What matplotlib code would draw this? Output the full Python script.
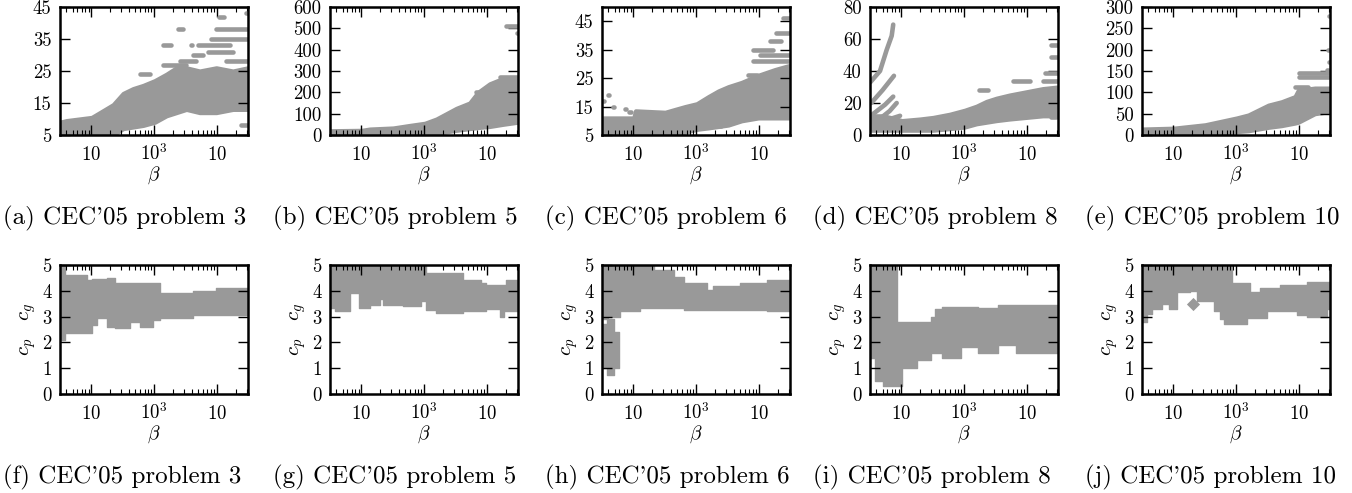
import numpy as np
import matplotlib
matplotlib.use("Agg")
import matplotlib.pyplot as plt
from matplotlib.ticker import NullFormatter, LogLocator

plt.rcParams['font.family'] = ['cmr10', 'DejaVu Serif']
plt.rcParams['mathtext.fontset'] = 'cm'
plt.rcParams['axes.unicode_minus'] = False
plt.rcParams['axes.formatter.use_mathtext'] = False

GRAY = '#999999'

# ---- x axis (beta, log scale) ----
x_lim = (3.16, 3100)
x_ticks = [10, 100, 1000]
x_tick_labels = [r'$10$', r'$10^3$', r'$10$']

# ---- top row: population size vs beta (dense region + outlier streaks) ----
# streaks are (y, beta_from, beta_to)
a_x = [3.16, 4.0, 10.1, 13.6, 22.2, 32, 46, 66.5, 102, 156, 225, 324, 527, 970, 1780, 3090]
a_lo = [5, 5, 5, 5, 5, 7, 7.5, 8, 9, 11, 12, 13, 12, 12, 13, 13]
a_hi = [9, 9.5, 10.5, 12, 14.5, 18, 19.5, 20.5, 22, 24, 26, 26, 25, 26, 25, 26]
a_streaks = [(12, 3.35, 3.4), (24, 59, 85), (27, 138, 324), (28, 254, 467), (28, 1400, 2950),
             (30, 413, 596), (31, 715, 1780), (33, 138, 187), (33, 389, 395), (33, 497, 1580),
             (35, 808, 3000), (38, 240, 287), (38, 715, 720), (38, 970, 2950),
             (42, 1070, 1300), (43, 2900, 3000), (8, 2420, 3000)]

b_x = [3.16, 10.1, 13.6, 32, 59, 102, 156, 225, 324, 527, 715, 1100, 1780, 3090]
b_lo = [0, 0, 0, 0, 0, 5, 8, 15, 22, 30, 35, 40, 50, 60]
b_hi = [20, 22, 28, 33, 45, 55, 75, 100, 125, 150, 200, 240, 265, 265]
b_streaks = [(510, 2010, 3090), (480, 3000, 3090), (200, 660, 1100), (100, 345, 527),
             (128, 365, 860), (270, 1600, 3000)]

c_x = [3.16, 5.15, 10.1, 10.8, 32, 46, 66.5, 102, 156, 225, 324, 527, 970, 1780, 3090]
c_lo = [5, 5, 5, 5, 5, 5, 6, 7, 7.5, 8, 8.5, 10, 11, 11, 11]
c_hi = [11, 11, 11, 13.5, 13, 14, 15, 16, 18.5, 20.5, 22, 23.5, 26, 28, 29.5]
c_streaks = [(19, 3.95, 4.05), (17, 3.3, 3.35), (15, 4.8, 4.9), (15, 6.1, 6.2), (14, 7.3, 7.5),
             (13, 8.5, 9), (31, 810, 3000), (33, 1030, 3000), (35, 810, 1680), (38, 1490, 2200),
             (41, 1890, 3000), (46, 2400, 3090), (40, 1240, 1250), (30, 660, 665),
             (26, 660, 912), (25, 480, 485), (8, 240, 245)]

d_x = [3.16, 5.15, 8.4, 10.1, 19.7, 32, 59, 102, 156, 225, 324, 527, 970, 1780, 3090]
d_lo = [3, 3, 3, 3, 3, 3, 4, 5, 7, 8, 9, 10, 11, 12, 12]
d_hi = [12, 12, 10, 9, 10, 11, 13, 15.5, 18, 21, 23, 25, 27, 29, 30]
d_streaks = [(34, 596, 1100), (28, 170, 240), (34, 1800, 3100), (39, 1900, 3100),
             (49, 2400, 3100), (56, 2400, 3100), (11, 2400, 2900)]
# fan of small-beta runs in problem 8
d_fan_x = [[3.2, 4.56, 5.8, 7.0, 7.4], [3.3, 5.0, 7.6], [3.5, 5.5, 7.4], [4.5, 6.5, 8.4], [5.5, 9.5]]
d_fan_y = [[33, 40, 53, 62, 69], [20, 28, 37], [13, 19, 24], [10, 15, 20], [9, 12]]

e_x = [3.16, 10.1, 32, 102, 156, 324, 527, 860, 970, 1780, 3090]
e_lo = [0, 0, 0, 8, 10, 18, 22, 28, 30, 50, 55]
e_hi = [14, 16, 24, 40, 47, 70, 78, 90, 105, 110, 110]
e_streaks = [(145, 1000, 3090), (137, 1000, 3090), (100, 970, 975), (112, 860, 1400),
             (39, 1680, 1690), (278, 3000, 3050), (200, 2900, 2950), (172, 3000, 3050),
             (153, 2800, 2850)]

top_yticks = [[5, 15, 25, 35, 45], [0, 100, 200, 300, 400, 500, 600], [5, 15, 25, 35, 45],
              [0, 20, 40, 60, 80], [0, 50, 100, 150, 200, 250, 300]]
top_ylims = [(5, 45), (0, 600), (5, 50), (0, 80), (0, 300)]

# ---- bottom row: c_p / c_g band vs beta (steps start at each x) ----
f_x = [3.16, 3.8, 8.4, 10.1, 12.1, 17.4, 23.6, 41, 59, 96, 122, 413, 970, 3100]
f_lo = [2.1, 2.36, 2.36, 2.68, 2.94, 2.6, 2.55, 2.8, 2.6, 2.87, 2.94, 3.07, 3.07, 3.07]
f_hi = [5.0, 4.6, 4.4, 4.45, 4.45, 4.5, 4.3, 4.3, 4.3, 4.3, 3.9, 4.0, 4.1, 4.1]

g_x = [3.16, 3.8, 6.6, 9.0, 13.6, 19.7, 22.2, 46, 90, 108, 156, 413, 808, 970, 1580, 1890, 2010, 3100]
g_lo = [3.32, 3.2, 3.9, 3.32, 3.45, 3.7, 3.45, 3.4, 3.6, 3.25, 3.15, 3.2, 3.2, 3.3, 3.0, 3.2, 3.2, 3.2]
g_hi = [5, 5, 5, 5, 5, 5, 5, 5, 5, 4.68, 4.68, 4.42, 4.3, 4.23, 4.23, 4.23, 4.42, 4.42]

h_x = [3.16, 4.0, 6.2, 12.8, 21, 44, 63, 147, 187, 497, 1330, 3100]
h_lo = [2.9, 3.0, 3.2, 3.35, 3.35, 3.35, 3.25, 3.25, 3.25, 3.25, 3.2, 3.2]
h_hi = [5, 5, 5, 5, 4.8, 4.55, 4.3, 4.05, 4.17, 4.3, 4.42, 4.42]
h2_x = [3.16, 3.8, 4.85, 5.8]
h2_lo = [1.0, 0.75, 1.0, 1.0]
h2_hi = [2.7, 2.9, 2.4, 2.4]

i_x = [3.16, 3.8, 5.15, 8.4, 10.1, 17.4, 30, 34, 43.7, 90, 165, 345, 660, 3100]
i_lo = [1.4, 0.5, 0.3, 0.3, 1.0, 1.3, 1.58, 1.58, 1.4, 1.84, 1.58, 1.9, 1.58, 1.58]
i_hi = [5, 5, 5, 2.8, 2.8, 2.8, 3.0, 3.3, 3.39, 3.39, 3.35, 3.45, 3.45, 3.45]

j_x = [3.16, 3.8, 4.56, 6.6, 8.4, 11.4, 18.5, 23.6, 44, 55, 63, 85, 147, 166, 240, 305, 497, 912, 1330, 2730, 3100]
j_lo = [2.8, 3.1, 3.3, 3.5, 3.3, 3.95, 4.0, 3.6, 3.2, 2.9, 2.7, 2.7, 2.95, 2.95, 2.95, 3.2, 3.2, 3.05, 3.0, 3.3, 3.3]
j_hi = [5, 5, 5, 5, 5, 5, 5, 5, 5, 5, 5, 4.3, 4.3, 3.97, 4.1, 4.1, 4.23, 4.23, 4.36, 4.36, 4.36]
j_dia_x = [20.5]
j_dia_y = [3.5]

top_captions = ["(a) CEC'05 problem 3", "(b) CEC'05 problem 5", "(c) CEC'05 problem 6",
                "(d) CEC'05 problem 8", "(e) CEC'05 problem 10"]
bottom_captions = ["(f) CEC'05 problem 3", "(g) CEC'05 problem 5", "(h) CEC'05 problem 6",
                   "(i) CEC'05 problem 8", "(j) CEC'05 problem 10"]

W, H = 1352, 493
fig = plt.figure(figsize=(W / 100, H / 100), dpi=100)

col_left = [60, 330, 602, 870, 1142]
ax_w = 188


def style_axes(ax):
    ax.set_xscale('log')
    ax.set_xlim(*x_lim)
    ax.set_xticks(x_ticks)
    ax.set_xticklabels(x_tick_labels)
    ax.xaxis.set_minor_locator(LogLocator(base=10, subs=np.arange(2, 10)))
    ax.xaxis.set_minor_formatter(NullFormatter())
    ax.tick_params(which='both', direction='in', top=True, right=True)
    ax.tick_params(which='major', length=7, width=1.0, labelsize=13.5, pad=6)
    ax.tick_params(which='minor', length=3.5, width=0.8)
    # baseline-aligned x labels so 10 and 10^3 sit on one line
    ax.tick_params(axis='x', which='major', pad=18)
    for lab in ax.get_xticklabels():
        lab.set_verticalalignment('baseline')
    for s in ax.spines.values():
        s.set_linewidth(1.8)
    ax.set_xlabel(r'$\beta$', fontsize=14, labelpad=0)


top_data = [(a_x, a_lo, a_hi, a_streaks), (b_x, b_lo, b_hi, b_streaks),
            (c_x, c_lo, c_hi, c_streaks), (d_x, d_lo, d_hi, d_streaks),
            (e_x, e_lo, e_hi, e_streaks)]

for k, (xs, lo, hi, streaks) in enumerate(top_data):
    left = col_left[k]
    ax = fig.add_axes([left / W, 1 - 135 / H, ax_w / W, 128 / H])
    ax.fill_between(xs, lo, hi, color=GRAY, edgecolor=GRAY, linewidth=3, joinstyle='round')
    sy = [s[0] for s in streaks]
    sx0 = [s[1] for s in streaks]
    sx1 = [s[2] for s in streaks]
    ax.hlines(sy, sx0, sx1, colors=GRAY, linewidths=3.3, capstyle='round')
    if k == 3:
        for fx, fy in zip(d_fan_x, d_fan_y):
            ax.plot(fx, fy, color=GRAY, lw=3.3, solid_capstyle='round')
    ax.set_ylim(*top_ylims[k])
    ax.set_yticks(top_yticks[k])
    style_axes(ax)
    fig.text((left - 57) / W, 1 - 218 / H, top_captions[k], fontsize=18, va='center', ha='left')

bottom_data = [(f_x, f_lo, f_hi), (g_x, g_lo, g_hi), (h_x, h_lo, h_hi),
               (i_x, i_lo, i_hi), (j_x, j_lo, j_hi)]

for k, (xs, lo, hi) in enumerate(bottom_data):
    left = col_left[k]
    ax = fig.add_axes([left / W, 1 - 394 / H, ax_w / W, 129 / H])
    ax.fill_between(xs, lo, hi, step='post', color=GRAY, edgecolor=GRAY, linewidth=1)
    if k == 2:
        ax.fill_between(h2_x, h2_lo, h2_hi, step='post', color=GRAY, edgecolor=GRAY, linewidth=1)
    if k == 4:
        ax.scatter(j_dia_x, j_dia_y, marker='D', s=45, color=GRAY, linewidths=0)
    ax.set_ylim(0, 5)
    ax.set_yticks([0, 1, 2, 3, 4, 5])
    style_axes(ax)
    ax.set_ylabel(r'$c_p\quad c_g$', fontsize=15, labelpad=3)
    fig.text((left - 57) / W, 1 - 477 / H, bottom_captions[k], fontsize=18, va='center', ha='left')

fig.savefig('out.png', dpi=100)
